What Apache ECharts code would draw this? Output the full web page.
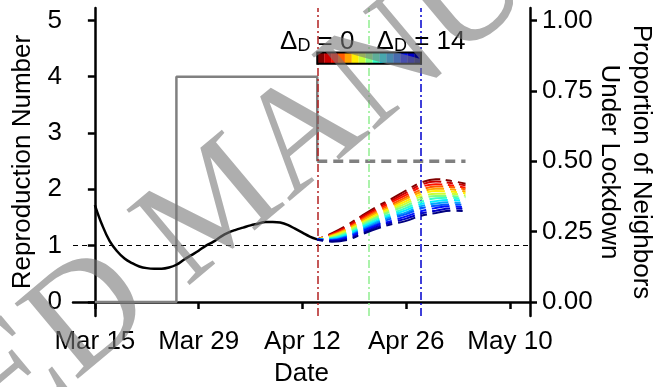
<!DOCTYPE html>
<html>
<head>
<meta charset="utf-8">
<script src="https://cdn.jsdelivr.net/npm/echarts@6/dist/echarts.min.js"></script>
<style>
html, body { margin: 0; padding: 0; background: #fff; }
#main { width: 667px; height: 387px; }
</style>
</head>
<body>
<div id="main"></div>
<script>
// x is days since Mar 15
var tickDays = [0, 14, 28, 42, 56];
var tickLabels = ['Mar 15', 'Mar 29', 'Apr 12', 'Apr 26', 'May 10'];
var rTicks = [0, 1, 2, 3, 4, 5];
var lockTicks = [0, 0.25, 0.5, 0.75, 1];

// estimated reproduction number
var rDays = [0, 1, 2, 3, 4, 5, 6, 7, 8, 9, 10, 11, 12, 13, 14, 15, 16, 17, 18, 19, 20, 21, 22, 23, 24, 25, 26, 27, 28, 29, 30];
var rValues = [1.72, 1.36, 1.08, 0.90, 0.77, 0.69, 0.63, 0.60, 0.59, 0.59, 0.61, 0.66, 0.75, 0.83, 0.91, 1.00, 1.07, 1.16, 1.23, 1.28, 1.32, 1.36, 1.39, 1.42, 1.42, 1.41, 1.37, 1.30, 1.23, 1.16, 1.11];

// proportion of neighbours under lockdown
var lockDays = [0, 11, 11, 30, 30];
var lockValues = [0, 0, 0.8, 0.8, 0.5];
var lockFutureDays = [30, 50];
var lockFutureValues = [0.5, 0.5];

var vlineDays = [30, 37, 44];

// projections, one per delta_D = 0..14
var deltaD = [0, 1, 2, 3, 4, 5, 6, 7, 8, 9, 10, 11, 12, 13, 14];
var projDays = [30, 32, 34, 36, 38, 40, 42, 44, 46, 48, 50];
var projByDelta = [
  [1.11, 1.22, 1.36, 1.53, 1.69, 1.83, 1.98, 2.12, 2.18, 2.15, 2.10],
  [1.11, 1.21, 1.34, 1.51, 1.66, 1.80, 1.94, 2.08, 2.14, 2.11, 2.07],
  [1.11, 1.20, 1.32, 1.48, 1.63, 1.77, 1.90, 2.04, 2.09, 2.07, 2.03],
  [1.11, 1.19, 1.30, 1.46, 1.61, 1.73, 1.86, 1.99, 2.05, 2.04, 2.00],
  [1.11, 1.18, 1.29, 1.44, 1.58, 1.70, 1.83, 1.95, 2.01, 2.00, 1.96],
  [1.11, 1.17, 1.27, 1.41, 1.55, 1.67, 1.79, 1.91, 1.97, 1.96, 1.93],
  [1.11, 1.16, 1.25, 1.39, 1.52, 1.64, 1.75, 1.87, 1.92, 1.92, 1.89],
  [1.11, 1.14, 1.23, 1.37, 1.50, 1.61, 1.71, 1.83, 1.88, 1.88, 1.86],
  [1.11, 1.13, 1.21, 1.34, 1.47, 1.57, 1.67, 1.78, 1.84, 1.85, 1.82],
  [1.11, 1.12, 1.19, 1.32, 1.44, 1.54, 1.63, 1.74, 1.79, 1.81, 1.79],
  [1.11, 1.11, 1.17, 1.29, 1.41, 1.51, 1.59, 1.70, 1.75, 1.77, 1.75],
  [1.11, 1.10, 1.16, 1.27, 1.38, 1.48, 1.56, 1.66, 1.71, 1.73, 1.72],
  [1.11, 1.09, 1.14, 1.25, 1.36, 1.44, 1.52, 1.61, 1.67, 1.70, 1.68],
  [1.11, 1.08, 1.12, 1.22, 1.33, 1.41, 1.48, 1.57, 1.62, 1.66, 1.65],
  [1.11, 1.07, 1.10, 1.20, 1.30, 1.38, 1.44, 1.53, 1.58, 1.62, 1.61]
];

var FONT = 'Liberation Sans';
var FS = 26;

function jet(t) {
  function c(v) { return Math.round(255 * Math.max(0, Math.min(1, v))); }
  return 'rgb(' + c(1.5 - Math.abs(4 * t - 3)) + ',' + c(1.5 - Math.abs(4 * t - 2)) + ',' + c(1.5 - Math.abs(4 * t - 1)) + ')';
}
function deltaColor(d) { return jet(1 - d / 14); }

function zip(xs, ys) { return xs.map(function (x, i) { return [x, ys[i]]; }); }

var series = [];

series.push({
  name: 'R',
  type: 'line',
  smooth: 0.4,
  showSymbol: false,
  data: zip(rDays, rValues),
  lineStyle: { color: '#000', width: 2.5 },
  z: 5,
  markLine: {
    silent: true,
    symbol: 'none',
    label: { show: false },
    lineStyle: { color: '#000', type: [5, 4], width: 1.2 },
    data: [{ yAxis: 1 }]
  }
});

series.push({
  name: 'lockdown',
  type: 'line',
  yAxisIndex: 1,
  showSymbol: false,
  data: zip(lockDays, lockValues),
  lineStyle: { color: '#808080', width: 2.5 },
  z: 3
});

series.push({
  name: 'lockdown future',
  type: 'line',
  yAxisIndex: 1,
  showSymbol: false,
  data: zip(lockFutureDays, lockFutureValues),
  lineStyle: { color: '#808080', width: 3.5, type: [10, 6] },
  z: 3,
  markLine: {
    silent: true,
    symbol: 'none',
    label: { show: false },
    data: vlineDays.map(function (d, i) {
      return {
        xAxis: d,
        lineStyle: { color: ['#b22222', '#90ee90', '#0000cd'][i], type: [8, 3, 2, 3], width: 1.5 }
      };
    })
  }
});

deltaD.forEach(function (d, i) {
  series.push({
    name: 'delta ' + d,
    type: 'line',
    smooth: 0.4,
    showSymbol: false,
    data: zip(projDays, projByDelta[i]),
    lineStyle: { color: deltaColor(d), width: 2, type: [6, 6, 18, 6] },
    z: 6
  });
});

// colour bar for delta_D
series.push({
  name: 'colorbar',
  type: 'custom',
  silent: true,
  z: 8,
  data: deltaD.map(function (d) { return [d, 0]; }),
  renderItem: function (params, api) {
    var k = api.value(0);
    var x0 = 30, x1 = 44, yTop = 4.43, yBot = 4.23;
    var w = (x1 - x0) / deltaD.length;
    var a = api.coord([x0 + k * w, yTop]);
    var b = api.coord([x0 + (k + 1) * w, yBot]);
    var children = [{
      type: 'rect',
      shape: { x: a[0], y: a[1], width: b[0] - a[0], height: b[1] - a[1] },
      style: { fill: deltaColor(k) }
    }];
    var rich = {
      d: { fontSize: 26, fontFamily: FONT, lineHeight: 28 },
      s: { fontSize: 18, fontFamily: FONT, lineHeight: 14, verticalAlign: 'bottom' }
    };
    if (k === 0 || k === deltaD.length - 1) {
      var p = api.coord([k === 0 ? x0 : x1, yTop]);
      children.push({
        type: 'text',
        x: p[0],
        y: p[1] + 3,
        style: {
          text: '{d|\u0394}{s|D}{d| = ' + k + '}',
          rich: rich,
          align: 'center',
          verticalAlign: 'bottom',
          fill: '#000'
        }
      });
    }
    if (k === deltaD.length - 1) {
      var tl = api.coord([x0, yTop]);
      var br = api.coord([x1, yBot]);
      children.push({
        type: 'rect',
        shape: { x: tl[0], y: tl[1], width: br[0] - tl[0], height: br[1] - tl[1] },
        style: { fill: 'none', stroke: '#000', lineWidth: 2 }
      });
    }
    return { type: 'group', children: children };
  }
});

var axisLine = { show: true, lineStyle: { color: '#000', width: 2.5 } };
var axisTick = { show: true, inside: false, length: 7, lineStyle: { color: '#000', width: 2.5 } };

var option = {
  animation: false,
  backgroundColor: '#fff',
  textStyle: { fontFamily: FONT, color: '#000' },
  grid: { left: 73, right: 137, top: 8, bottom: 71, outerBoundsMode: 'none' },
  xAxis: {
    type: 'value',
    min: -2.95,
    max: 58.7,
    name: 'Date',
    nameLocation: 'middle',
    nameGap: 45,
    nameMoveOverlap: false,
    nameTextStyle: { fontSize: FS, color: '#000', fontFamily: FONT },
    axisLine: axisLine,
    axisTick: Object.assign({ customValues: tickDays }, axisTick),
    axisLabel: {
      customValues: tickDays,
      margin: 13,
      fontSize: FS,
      color: '#000',
      fontFamily: FONT,
      formatter: function (v) { return tickLabels[tickDays.indexOf(v)]; }
    },
    splitLine: { show: false }
  },
  yAxis: [{
    type: 'value',
    min: -0.25,
    max: 5.22,
    name: 'Reproduction Number',
    nameLocation: 'middle',
    nameGap: 37,
    nameMoveOverlap: false,
    nameTextStyle: { fontSize: FS, color: '#000', fontFamily: FONT },
    axisLine: axisLine,
    axisTick: Object.assign({ customValues: rTicks }, axisTick),
    axisLabel: { customValues: rTicks, margin: 11, fontSize: FS, color: '#000', fontFamily: FONT },
    splitLine: { show: false }
  }, {
    type: 'value',
    position: 'right',
    min: -0.05,
    max: 1.044,
    name: 'Proportion of Neighbors\nUnder Lockdown',
    nameLocation: 'middle',
    nameRotate: -90,
    nameGap: 63,
    nameMoveOverlap: false,
    nameTextStyle: { fontSize: FS, color: '#000', fontFamily: FONT, lineHeight: 32 },
    axisLine: axisLine,
    axisTick: Object.assign({ customValues: lockTicks }, axisTick),
    axisLabel: {
      customValues: lockTicks,
      margin: 12,
      fontSize: FS,
      color: '#000',
      fontFamily: FONT,
      formatter: function (v) { return v.toFixed(2); }
    },
    splitLine: { show: false }
  }],
  graphic: [{
    type: 'text',
    x: 220,
    y: 208,
    rotation: 40 * Math.PI / 180,
    z: 100,
    silent: true,
    style: {
      x: 0,
      y: 0,
      text: 'ACCEPTED MANUSCRIPT',
      font: '150px "Liberation Serif"',
      align: 'center',
      verticalAlign: 'middle',
      fill: 'rgba(120,120,120,0.6)'
    }
  }],
  series: series
};

var chart = echarts.init(document.getElementById('main'));
chart.setOption(option);
</script>
</body>
</html>
